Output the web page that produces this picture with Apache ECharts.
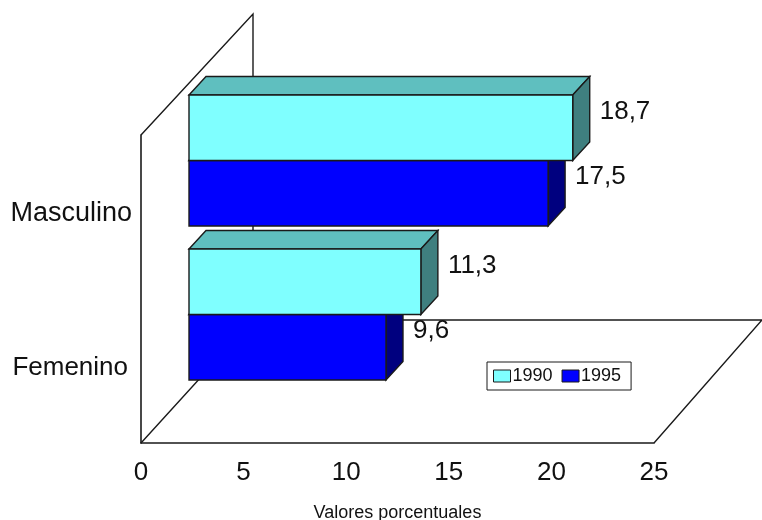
<!DOCTYPE html>
<html>
<head>
<meta charset="utf-8">
<style>
  html, body { margin: 0; padding: 0; background: #fff; }
  #chart { width: 762px; height: 520px; }
</style>
<script src="https://cdn.jsdelivr.net/npm/echarts@6/dist/echarts.min.js"></script>
</head>
<body>
<div id="chart"></div>
<script>
const categories = ['Femenino', 'Masculino']
const values1990 = [11.3, 18.7]
const values1995 = [9.6, 17.5]
const xTicks = { min: 0, max: 25, interval: 5 }

const FONT = '"Liberation Sans", Arial, sans-serif'
const LINE = '#1a1a1a'

// fake 3d: the bars sit part way into the box, the box itself is deeper
const BOX_DX = 112, BOX_DY = -123
const BAR_DX = 48, BAR_DY = -51.5
const DEPTH_DX = 17, DEPTH_DY = -18.5
const BAR_BAND = 0.425

function poly(points, fill) {
  return {
    type: 'polygon',
    shape: { points },
    style: { fill, stroke: LINE, lineWidth: 1.4 }
  }
}

function barRenderer(colors, side) {
  return (params, api) => {
    const start = api.coord([0, api.value(1)])
    const end = api.coord([api.value(0), api.value(1)])
    const h = api.size([0, 1])[1] * BAR_BAND
    const x0 = start[0] + BAR_DX
    const x1 = end[0] + BAR_DX
    const yMid = start[1] + BAR_DY + side * h / 2
    const top = yMid - h / 2
    const bot = yMid + h / 2
    return {
      type: 'group',
      children: [
        poly([[x0, top], [x0 + DEPTH_DX, top + DEPTH_DY], [x1 + DEPTH_DX, top + DEPTH_DY], [x1, top]], colors.top),
        poly([[x1, top], [x1 + DEPTH_DX, top + DEPTH_DY], [x1 + DEPTH_DX, bot + DEPTH_DY], [x1, bot]], colors.side),
        poly([[x0, top], [x1, top], [x1, bot], [x0, bot]], colors.front),
        {
          type: 'text',
          z2: 10,
          style: {
            x: x1 + DEPTH_DX + 10,
            y: yMid + DEPTH_DY + 2.5,
            text: api.value(0).toFixed(1).replace('.', ','),
            fill: '#111',
            font: '26px ' + FONT,
            verticalAlign: 'middle'
          }
        }
      ]
    }
  }
}

function boxRenderer(params) {
  const { x, y, width, height } = params.coordSys
  const line = (pts) => ({
    type: 'polyline',
    shape: { points: pts },
    style: { fill: null, stroke: LINE, lineWidth: 1.4 }
  })
  const bottom = y + height
  return {
    type: 'group',
    children: [
      line([[x, y], [x + BOX_DX, y - 121], [x + BOX_DX, bottom + BOX_DY], [x, bottom]]),
      line([[x + BOX_DX, bottom + BOX_DY], [x + width + 108, bottom + BOX_DY], [x + width, bottom]])
    ]
  }
}

const toRows = (vals) => vals.map((v, i) => [v, i])

const option = {
  animation: false,
  backgroundColor: '#fff',
  textStyle: { fontFamily: FONT },
  grid: { left: 141, top: 135, width: 513, height: 308, outerBoundsMode: 'none' },
  legend: {
    data: ['1990', '1995'],
    left: 487,
    top: 362,
    orient: 'horizontal',
    icon: 'rect',
    itemWidth: 17,
    itemHeight: 12,
    itemGap: 9,
    padding: [5, 10, 5, 6],
    backgroundColor: '#fff',
    borderColor: LINE,
    borderWidth: 1,
    borderRadius: 0,
    itemStyle: { borderColor: LINE, borderWidth: 1 },
    textStyle: { fontFamily: FONT, fontSize: 18, color: '#111', padding: [2, 0, 0, -3] }
  },
  xAxis: {
    type: 'value',
    min: xTicks.min,
    max: xTicks.max,
    interval: xTicks.interval,
    splitLine: { show: false },
    axisLine: { show: true, lineStyle: { color: LINE, width: 1.6 } },
    axisTick: { show: false },
    axisLabel: { fontFamily: FONT, fontSize: 26, color: '#111', margin: 17 },
    name: 'Valores porcentuales',
    nameLocation: 'middle',
    nameGap: 61,
    nameTextStyle: { fontFamily: FONT, fontSize: 18, color: '#111' }
  },
  yAxis: {
    type: 'category',
    data: categories,
    axisLine: { show: true, onZero: false, lineStyle: { color: LINE, width: 1.6 } },
    axisTick: { show: false },
    axisLabel: {
      margin: 9,
      formatter: (v) => (v === 'Femenino' ? '{f|' + v + '}' : '{m|' + v + '}'),
      rich: {
        f: { fontFamily: FONT, fontSize: 26, color: '#111', padding: [4, 4, 0, 0] },
        m: { fontFamily: FONT, fontSize: 27, color: '#111', padding: [4, 0, 0, 0] }
      }
    }
  },
  series: [
    {
      name: 'box',
      type: 'custom',
      z: 1,
      data: [[0, 0]],
      encode: { x: 0, y: 1 },
      renderItem: boxRenderer,
      silent: true
    },
    {
      name: '1995',
      type: 'custom',
      z: 2,
      itemStyle: { color: '#0000ff' },
      data: toRows(values1995),
      encode: { x: 0, y: 1 },
      renderItem: barRenderer({ front: '#0000ff', top: '#0000bf', side: '#00007f' }, 1)
    },
    {
      name: '1990',
      type: 'custom',
      z: 3,
      itemStyle: { color: '#7fffff' },
      data: toRows(values1990),
      encode: { x: 0, y: 1 },
      renderItem: barRenderer({ front: '#7fffff', top: '#5fbfbf', side: '#3f7f7f' }, -1)
    }
  ]
}

const chart = echarts.init(document.getElementById('chart'), null, { renderer: 'canvas' })
chart.setOption(option)
</script>
</body>
</html>
